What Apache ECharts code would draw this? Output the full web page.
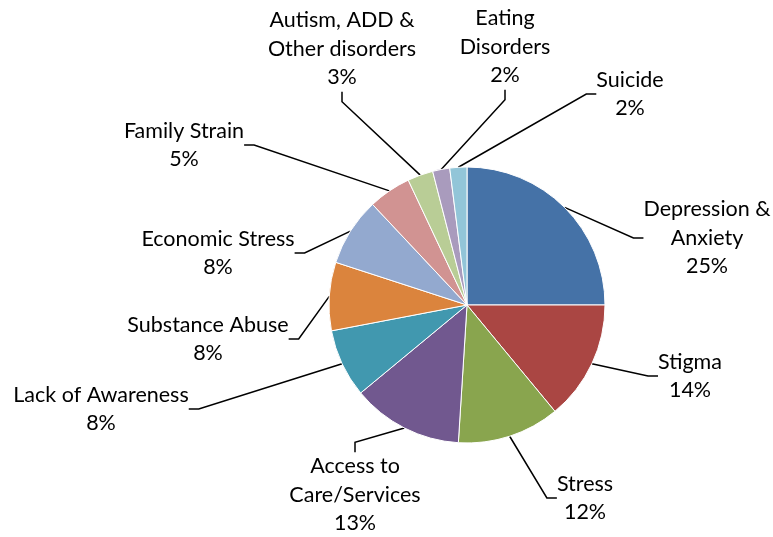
<!DOCTYPE html>
<html>
<head>
<meta charset="utf-8">
<script src="https://cdn.jsdelivr.net/npm/echarts@6/dist/echarts.min.js"></script>
<style>
  html, body { margin: 0; padding: 0; background: #fff; }
  #chart { width: 773px; height: 537px; }
</style>
</head>
<body>
<div id="chart"></div>
<script>
// Share of responses by concern (percent)
var categories = [
  'Depression &\nAnxiety', 'Stigma', 'Stress', 'Access to\nCare/Services',
  'Lack of Awareness', 'Substance Abuse', 'Economic Stress', 'Family Strain',
  'Autism, ADD &\nOther disorders', 'Eating\nDisorders', 'Suicide'
];
var values = [25, 14, 12, 13, 8, 8, 8, 5, 3, 2, 2];
var colors = [
  '#4572A7', '#AA4643', '#89A54E', '#71588F', '#4198AF', '#DB843D',
  '#93A9CF', '#D19392', '#B9CD96', '#A99BBD', '#92C5D8'
];

// Where each label block is centred on the canvas
var labelCentres = [
  [707, 238], [690, 376], [585, 498], [355, 495], [101, 409], [208, 339],
  [218, 253], [184, 145], [342, 49], [505, 47], [630, 94]
];

var chart = echarts.init(document.getElementById('chart'), null, { renderer: 'canvas' });

var seriesData = categories.map(function (name, i) {
  return { name: name, value: values[i], itemStyle: { color: colors[i] } };
});

chart.setOption({
  animation: false,
  series: [{
    type: 'pie',
    center: [467, 305],
    radius: 138,
    startAngle: 90,
    clockwise: true,
    avoidLabelOverlap: false,
    data: seriesData,
    itemStyle: { borderColor: '#ffffff', borderWidth: 1 },
    label: {
      show: true,
      formatter: '{b}\n{c}%',
      fontFamily: 'Lato, "Open Sans", sans-serif',
      fontSize: 21.5,
      lineHeight: 28.5,
      color: '#000',
      align: 'center'
    },
    labelLine: {
      show: true,
      length: 20,
      length2: 10,
      lineStyle: { color: '#000', width: 1.5 }
    },
    labelLayout: function (params) {
      var c = labelCentres[params.dataIndex];
      return { x: c[0], y: c[1], align: 'center', verticalAlign: 'middle' };
    }
  }]
});
</script>
</body>
</html>
